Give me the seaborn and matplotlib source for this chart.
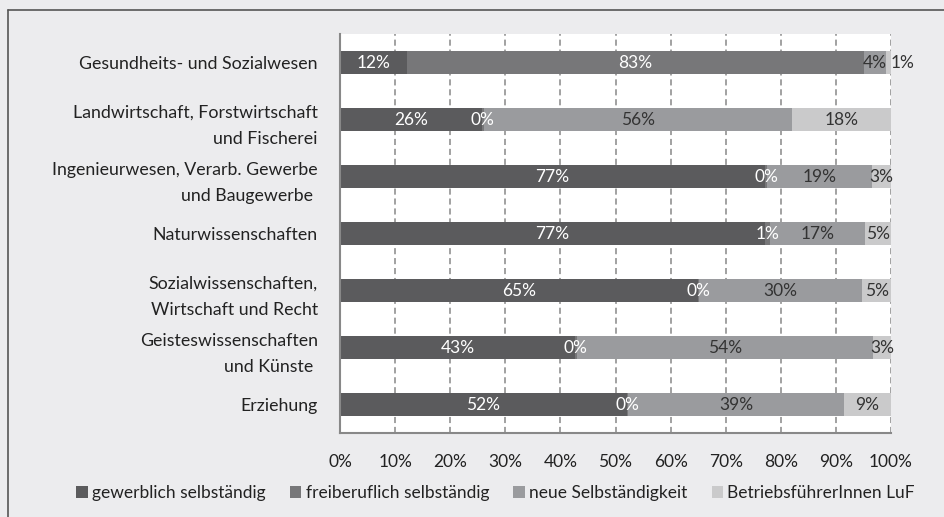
import matplotlib
matplotlib.use("Agg")
import matplotlib.pyplot as plt
import seaborn as sns
import numpy as np
import pandas as pd
from matplotlib.lines import Line2D
from matplotlib.patches import Patch

categories = [
    "Gesundheits- und Sozialwesen",
    "Landwirtschaft, Forstwirtschaft\nund Fischerei",
    "Ingenieurwesen, Verarb. Gewerbe\nund Baugewerbe ",
    "Naturwissenschaften",
    "Sozialwissenschaften,\nWirtschaft und Recht",
    "Geisteswissenschaften\nund Künste ",
    "Erziehung",
]
series_names = ["gewerblich selbständig", "freiberuflich selbständig",
                "neue Selbständigkeit", "BetriebsführerInnen LuF"]
gewerblich = [12.2, 25.7, 77.2, 77.1, 64.9, 42.6, 52.0]
freiberuflich = [82.9, 0.4, 0.3, 0.9, 0.2, 0.4, 0.3]
neue = [4.0, 55.9, 19.1, 17.3, 29.7, 53.8, 39.1]
betrieb = [0.9, 18.0, 3.4, 4.7, 5.2, 3.2, 8.6]
xticks = [0, 10, 20, 30, 40, 50, 60, 70, 80, 90, 100]
xticklabels = [f"{t}%" for t in xticks]

colors = ["#5b5b5d", "#777779", "#9a9b9e", "#cacacb"]
label_colors = ["white", "white", "#333333", "#333333"]

sns.set_theme(style="white")
plt.rcParams["font.family"] = ["Lato", "DejaVu Sans"]

fig = plt.figure(figsize=(9.44, 5.17), dpi=100)
fig.patch.set_facecolor("#ececee")
ax = fig.add_axes([340/944, 1-433/517, 551/944, (433-34)/517])
ax.set_facecolor("white")

values = [gewerblich, freiberuflich, neue, betrieb]
cums = np.cumsum(np.array(values), axis=0)
df = pd.DataFrame({"cat": categories})
# draw cumulative bars from largest to smallest to get stacked look
for i in range(3, -1, -1):
    d = df.copy()
    d["val"] = cums[i]
    sns.barplot(data=d, y="cat", x="val", orient="h", color=colors[i],
                saturation=1, width=0.42, ax=ax, order=categories,
                linewidth=0, edgecolor="none")

# labels
for i in range(4):
    starts = cums[i] - np.array(values[i])
    for j in range(len(categories)):
        v = values[i][j]
        if i == 3 and v < 2:
            ax.text(cums[i][j], j, f"{v:.0f}%", ha="left", va="center",
                    color=label_colors[i], fontsize=12.5, clip_on=False)
        else:
            ax.text(starts[j] + v / 2, j, f"{v:.0f}%", ha="center", va="center",
                    color=label_colors[i], fontsize=12.5)

ax.set_xlim(0, 100)
ax.set_ylim(6.5, -0.5)
ax.set_xlabel("")
ax.set_ylabel("")
ax.set_xticks(xticks)
ax.set_xticklabels(xticklabels, fontsize=12.5, color="#222222")
for x in xticks[1:]:
    ax.axvline(x, color="#888888", lw=1.1, ls=(0, (4, 2.5)), zorder=0)

ax.set_yticks(range(len(categories)))
ax.set_yticklabels(categories, fontsize=12.8, color="#222222", linespacing=1.75)
ax.set_yticks(np.arange(-0.5, 7, 1), minor=True)
ax.tick_params(axis="y", which="major", length=0, pad=16)
ax.tick_params(axis="y", which="minor", length=6, width=1.2, color="#888888", direction="out")
ax.tick_params(axis="x", which="major", length=5, width=1.2, color="#888888",
               direction="out", pad=10)
for s in ["top", "right"]:
    ax.spines[s].set_visible(False)
for s in ["left", "bottom"]:
    ax.spines[s].set_color("#888888")
    ax.spines[s].set_linewidth(1.5)

handles = [Patch(facecolor=c, edgecolor="none") for c in colors]
fig.legend(handles, series_names, loc="center", bbox_to_anchor=(0.525, 1-493/517),
           ncol=4, frameon=False, fontsize=12.5, handlelength=0.65, handleheight=0.65,
           handletextpad=0.25, columnspacing=1.4, labelcolor="#222222")

# frame lines
fig.add_artist(Line2D([8/944, 8/944], [0, 1-10/517], transform=fig.transFigure,
                      color="#555555", lw=1.2))
fig.add_artist(Line2D([8/944, 1], [1-10/517, 1-10/517], transform=fig.transFigure,
                      color="#555555", lw=1.2))

fig.savefig("out.png", dpi=100, facecolor=fig.get_facecolor())
